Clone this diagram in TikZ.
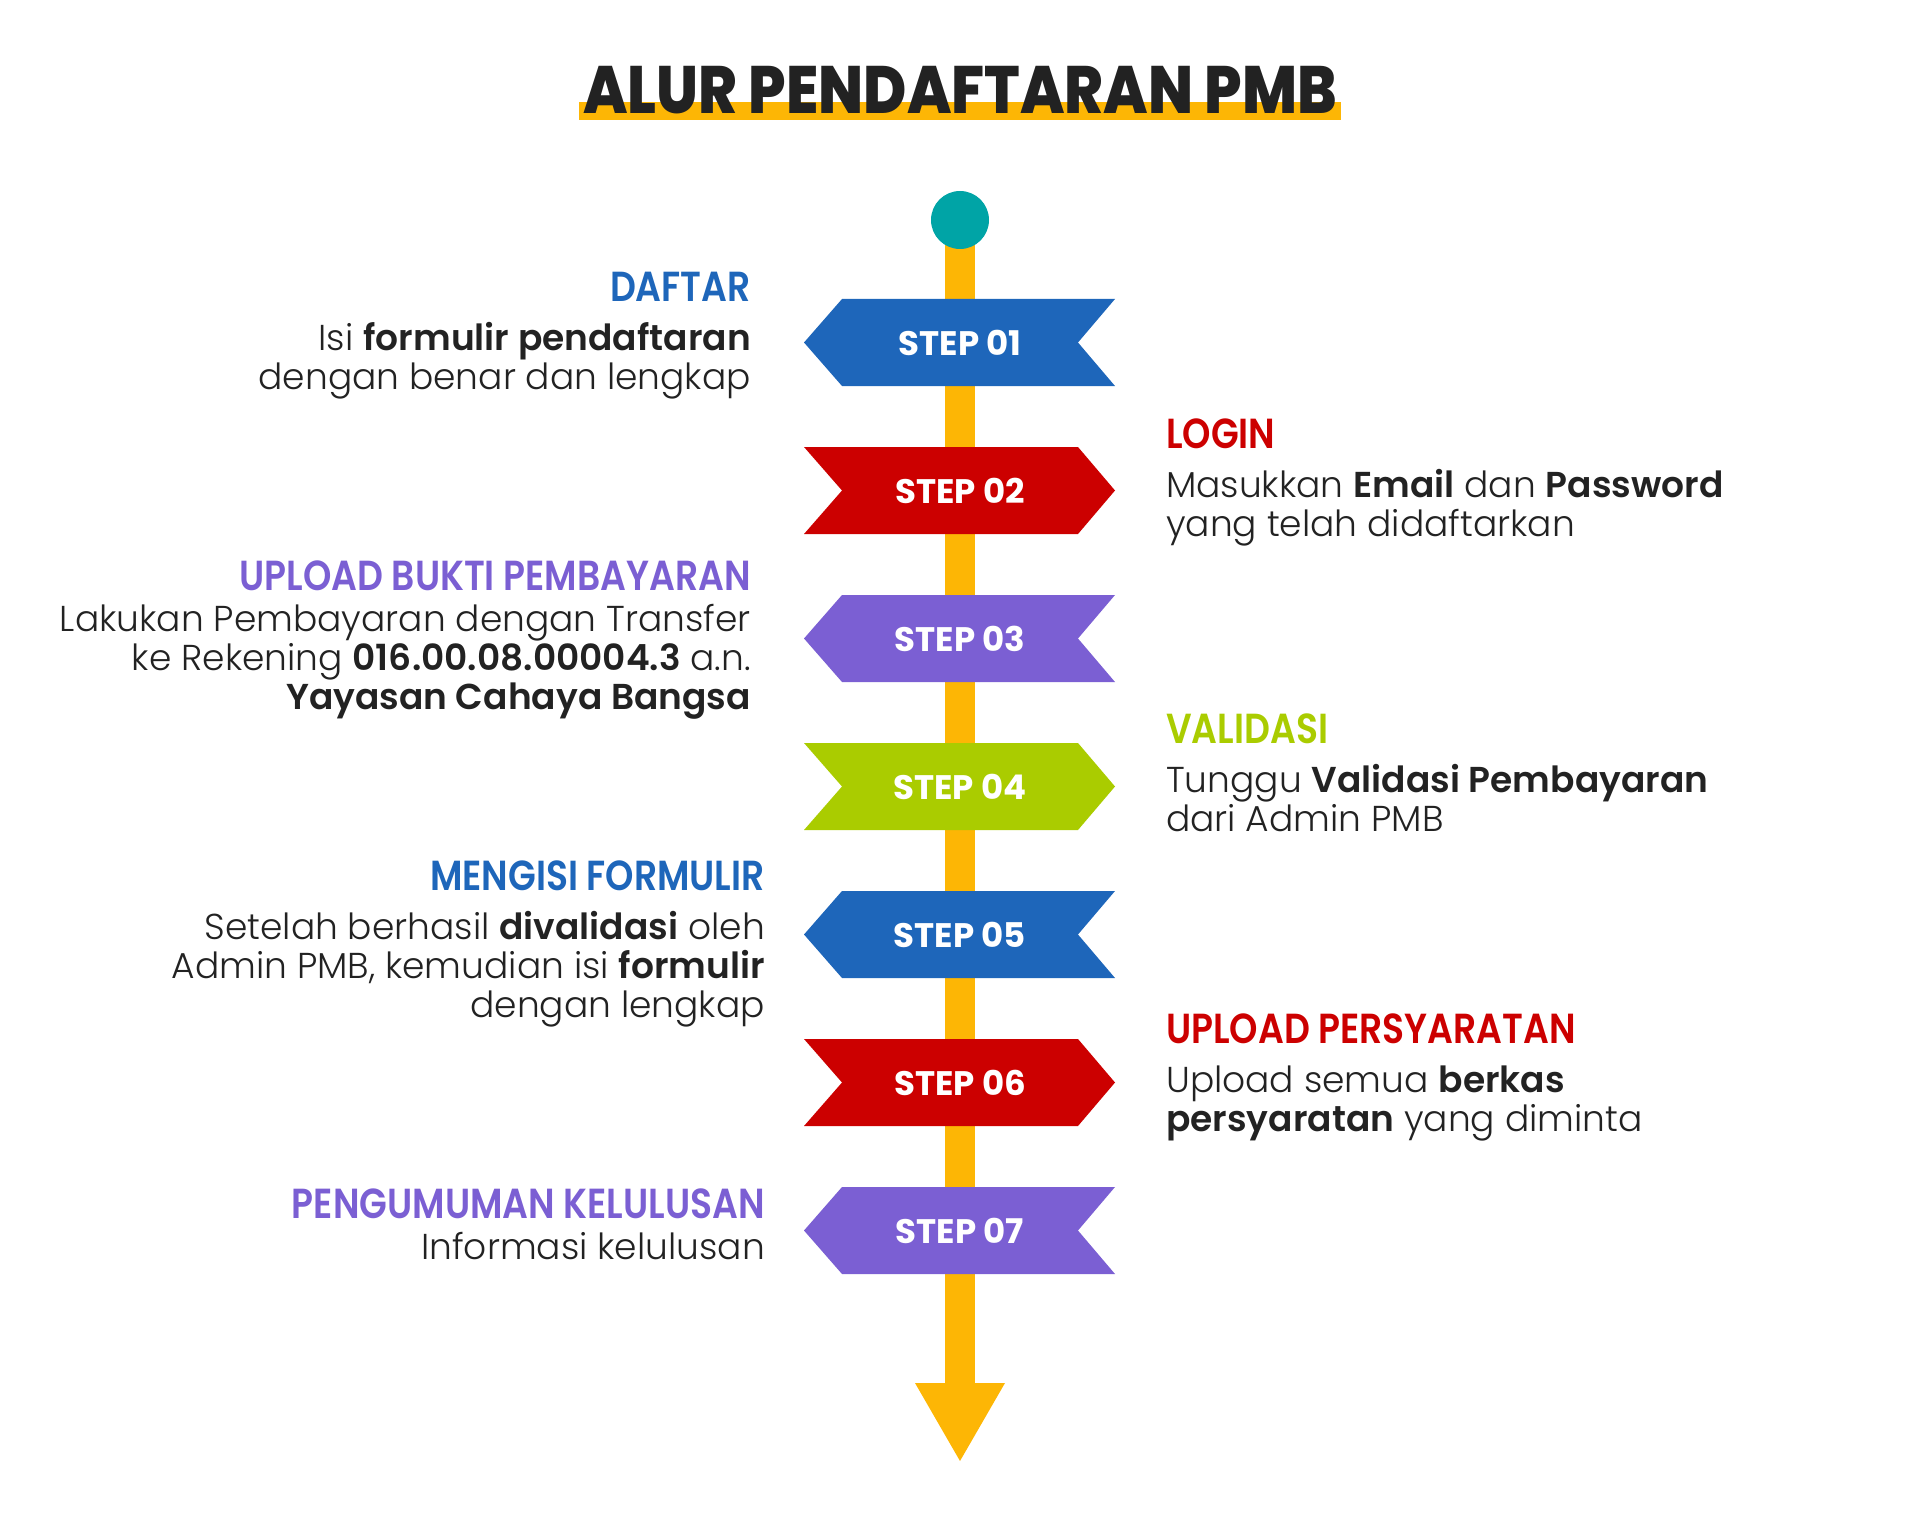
\documentclass[tikz,border=0pt]{standalone}
\usepackage{fontspec}
\usepackage{xcolor}
\usetikzlibrary{positioning,arrows.meta}
\setmainfont{Poppins Light}[BoldFont={Poppins SemiBold}]
\newfontfamily\headfont{Poppins SemiBold}[FakeStretch=0.86]
\newfontfamily\titlefont{Poppins ExtraBold}[FakeStretch=0.88]
\newfontfamily\stepfont{Poppins Bold}
\definecolor{pmbblue}{HTML}{1E66BA}
\definecolor{pmbred}{HTML}{CC0000}
\definecolor{pmbpurple}{HTML}{7B5FD3}
\definecolor{pmbgreen}{HTML}{AACC00}
\definecolor{pmbyellow}{HTML}{FDB605}
\definecolor{pmbteal}{HTML}{00A4A6}
\definecolor{ink}{HTML}{222222}

\begin{document}
\begin{tikzpicture}[x=1pt,y=-1pt,
	head/.style={font=\headfont\fontsize{42}{42}\selectfont,inner sep=0pt},
	body/.style={font=\fontsize{36}{39}\selectfont,text=ink,inner sep=0pt},
	steptext/.style={font=\stepfont\fontsize{34}{34}\selectfont,text=white,inner sep=0pt},
	lefttext/.style={anchor=base east,align=right},
	righttext/.style={anchor=base west,align=left}]
	\useasboundingbox (0,0) rectangle (1920,1538);

	% judul
	\fill[pmbyellow] (579,102) rectangle (1341,120);
	\node[font=\titlefont\fontsize{67}{67}\selectfont,text=ink,anchor=base,inner sep=0pt] (title) at (960,114) {ALUR PENDAFTARAN PMB};

	% tiang
	\coordinate (top) at (960,220);
	\coordinate (finish) at (960,1461);
	\draw[pmbyellow,line width=30pt,-{Triangle[width=90pt,length=78pt,line width=0pt]}] (top) -- (finish);
	\node[circle,fill=pmbteal,minimum size=58pt,inner sep=0pt] (start) at (top) {};

	% step ke kiri
	\foreach \i/\c in {1/pmbblue,3/pmbpurple,5/pmbblue,7/pmbpurple}{
		\pgfmathsetmacro\yc{342.5+148*(\i-1)}
		\fill[\c] (804,\yc) -- (842,\yc-43.5) -- (1115,\yc-43.5) -- (1078,\yc) -- (1115,\yc+43.5) -- (842,\yc+43.5) -- cycle;
		\node[steptext] (s\i) at (960,\yc) {STEP 0\i};
	}
	% step ke kanan
	\foreach \i/\c in {2/pmbred,4/pmbgreen,6/pmbred}{
		\pgfmathsetmacro\yc{342.5+148*(\i-1)}
		\fill[\c] (804,\yc-43.5) -- (1078,\yc-43.5) -- (1115,\yc) -- (1078,\yc+43.5) -- (804,\yc+43.5) -- (842,\yc) -- cycle;
		\node[steptext] (s\i) at (960,\yc) {STEP 0\i};
	}

	% keterangan kiri (titik = baris terakhir)
	\node[head,text=pmbblue,anchor=base east] (h1) at (751,302) {DAFTAR};
	\node[body,lefttext] (d1) at (751,389) {Isi \textbf{formulir pendaftaran}\\dengan benar dan lengkap};
	\node[head,text=pmbpurple,anchor=base east] (h3) at (751,590) {UPLOAD BUKTI PEMBAYARAN};
	\node[body,lefttext] (d3) at (751,709) {Lakukan Pembayaran dengan Transfer\\ke Rekening \textbf{016.00.08.00004.3} a.n.\\\textbf{Yayasan Cahaya Bangsa}};
	\node[head,text=pmbblue,anchor=base east] (h5) at (765,890) {MENGISI FORMULIR};
	\node[body,lefttext] (d5) at (765,1017) {Setelah berhasil \textbf{divalidasi} oleh\\Admin PMB, kemudian isi \textbf{formulir}\\dengan lengkap};
	\node[head,text=pmbpurple,anchor=base east] (h7) at (765,1218) {PENGUMUMAN KELULUSAN};
	\node[body,lefttext] (d7) at (765,1259) {Informasi kelulusan};

	% keterangan kanan
	\node[head,text=pmbred,anchor=base west] (h2) at (1166,448) {LOGIN};
	\node[body,righttext] (d2) at (1166,536) {Masukkan \textbf{Email} dan \textbf{Password}\\yang telah didaftarkan};
	\node[head,text=pmbgreen,anchor=base west] (h4) at (1166,743) {VALIDASI};
	\node[body,righttext] (d4) at (1166,831) {Tunggu \textbf{Validasi Pembayaran}\\dari Admin PMB};
	\node[head,text=pmbred,anchor=base west] (h6) at (1166,1043) {UPLOAD PERSYARATAN};
	\node[body,righttext] (d6) at (1166,1131) {Upload semua \textbf{berkas}\\\textbf{persyaratan} yang diminta};
\end{tikzpicture}
\end{document}
